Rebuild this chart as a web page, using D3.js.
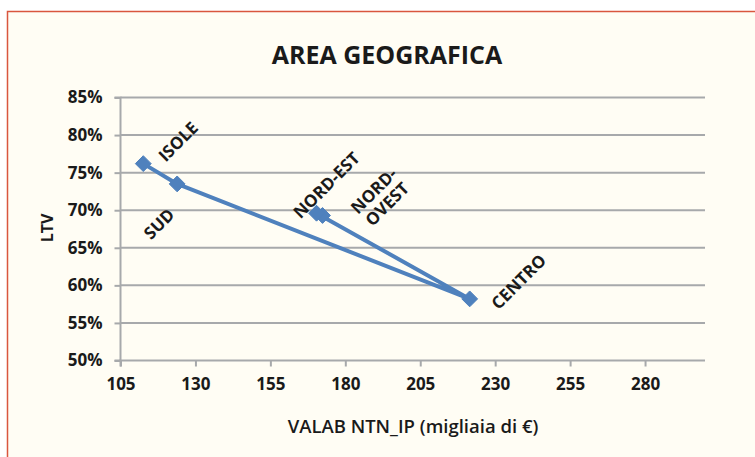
<!DOCTYPE html>
<html>
<head>
<meta charset="utf-8">
<script src="https://cdn.jsdelivr.net/npm/d3@7/dist/d3.min.js"></script>
<style>
  html, body { margin: 0; padding: 0; background: #ffffff; }
  svg { display: block; }
  text { font-family: "Open Sans", Lato, sans-serif; fill: #1a1a1a; }
</style>
</head>
<body>
<svg id="chart" width="755" height="457"></svg>
<script>
// Regions, average property value (thousand €) and loan-to-value ratio
const regions = ["NORD-OVEST", "NORD-EST", "CENTRO", "SUD", "ISOLE"];
const valab   = [172.4, 170.4, 221.5, 123.9, 112.6];
const ltv     = [0.693, 0.696, 0.582, 0.735, 0.762];

const xTicks = [105, 130, 155, 180, 205, 230, 255, 280];
const yTicks = [0.50, 0.55, 0.60, 0.65, 0.70, 0.75, 0.80, 0.85];

const points = regions.map((r, i) => ({ region: r, x: valab[i], y: ltv[i] }));

// Label placement around each marker
const labelPos = {
  "NORD-OVEST": { dx: 58, dy: -18, lines: ["NORD-", "OVEST"] },
  "NORD-EST":   { dx: 10, dy: -28, lines: ["NORD-EST"] },
  "CENTRO":     { dx: 49, dy: -17, lines: ["CENTRO"] },
  "SUD":        { dx: -18, dy: 40, lines: ["SUD"] },
  "ISOLE":      { dx: 35, dy: -22, lines: ["ISOLE"] }
};

const svg = d3.select("#chart");

// Chart frame
svg.append("rect")
  .attr("x", 7.5).attr("y", 11.5)
  .attr("width", 760).attr("height", 460)
  .attr("fill", "#fffdf4")
  .attr("stroke", "#d9563e")
  .attr("stroke-width", 1.5);

const plot = { left: 120.5, right: 705, top: 97.5, bottom: 360.5 };

const x = d3.scaleLinear().domain([105, 300]).range([plot.left, plot.right]);
const y = d3.scaleLinear().domain([0.50, 0.85]).range([plot.bottom, plot.top]);

// Title
svg.append("text")
  .attr("x", 387).attr("y", 64)
  .attr("text-anchor", "middle")
  .style("font-size", "25px")
  .style("font-weight", "700")
  .text("AREA GEOGRAFICA");

// Horizontal gridlines
svg.append("g")
  .selectAll("line")
  .data(yTicks.slice(1))
  .join("line")
  .attr("x1", plot.left).attr("x2", plot.right)
  .attr("y1", d => y(d)).attr("y2", d => y(d))
  .attr("stroke", "#a7a9ab")
  .attr("stroke-width", 2);

// Y axis
const yAxis = svg.append("g")
  .attr("transform", `translate(${plot.left},0)`)
  .call(d3.axisLeft(y).tickValues(yTicks).tickFormat(d3.format(".0%")).tickSize(6).tickPadding(12));

// X axis
const xAxis = svg.append("g")
  .attr("transform", `translate(0,${plot.bottom})`)
  .call(d3.axisBottom(x).tickValues(xTicks).tickFormat(d3.format("d")).tickSize(6).tickPadding(11));

[yAxis, xAxis].forEach(g => {
  g.select(".domain").attr("stroke", "#a7a9ab").attr("stroke-width", 2);
  g.selectAll(".tick line").attr("stroke", "#a7a9ab").attr("stroke-width", 2);
  g.selectAll(".tick text")
    .style("font-family", "'Open Sans', sans-serif")
    .style("font-size", "17px")
    .style("font-weight", "700")
    .attr("fill", "#1a1a1a");
});
// Horizontal axis line runs to the plot's right edge
xAxis.select(".domain").attr("d", `M${plot.left},6V0H${plot.right}`);
yAxis.select(".domain").attr("d", `M-6,${plot.bottom}H0V${plot.top}H-6`);

// Axis titles
svg.append("text")
  .attr("x", 413).attr("y", 433)
  .attr("text-anchor", "middle")
  .style("font-size", "18.5px")
  .style("font-weight", "600")
  .text("VALAB NTN_IP (migliaia di €)");

svg.append("text")
  .attr("transform", "translate(53,228) rotate(-90)")
  .attr("text-anchor", "middle")
  .style("font-size", "16px")
  .style("font-weight", "700")
  .text("LTV");

// Series line
const line = d3.line().x(d => x(d.x)).y(d => y(d.y));
svg.append("path")
  .datum(points)
  .attr("d", line)
  .attr("fill", "none")
  .attr("stroke", "#4f81bd")
  .attr("stroke-width", 4)
  .attr("stroke-linejoin", "round");

// Diamond markers
svg.append("g")
  .selectAll("path")
  .data(points)
  .join("path")
  .attr("transform", d => `translate(${x(d.x)},${y(d.y)})`)
  .attr("d", d3.symbol().type(d3.symbolDiamond2).size(160))
  .attr("fill", "#4f81bd")
  .attr("stroke", "#4f81bd")
  .attr("stroke-width", 1);

// Rotated data labels
const labels = svg.append("g")
  .selectAll("text")
  .data(points)
  .join("text")
  .attr("transform", d => {
    const p = labelPos[d.region];
    return `translate(${x(d.x) + p.dx},${y(d.y) + p.dy}) rotate(-45)`;
  })
  .attr("text-anchor", "middle")
  .style("font-size", "17px")
  .style("font-weight", "700");

labels.each(function (d) {
  const lines = labelPos[d.region].lines;
  d3.select(this).selectAll("tspan")
    .data(lines)
    .join("tspan")
    .attr("x", 0)
    .attr("dy", (t, i) => i === 0 ? `${-(lines.length - 1) * 0.55 + 0.35}em` : "1.1em")
    .text(t => t);
});
</script>
</body>
</html>
